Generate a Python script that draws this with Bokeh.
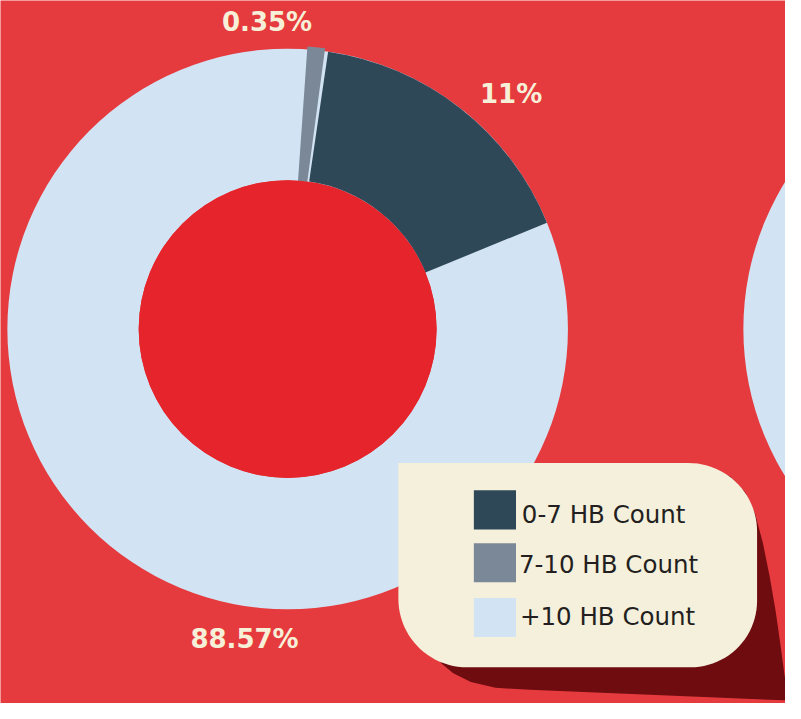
import numpy as np
from bokeh.plotting import figure
from bokeh.models import Range1d, ColumnDataSource
from bokeh.core.properties import value
from bokeh.embed import file_html
from bokeh.resources import INLINE

# ---------------- data ----------------
categories = ["0-7 HB Count", "7-10 HB Count", "+10 HB Count"]
pct_labels = ["11%", "0.35%", "88.57%"]
# share of the ring each slice occupies as drawn in the picture (%)
drawn_share = [16.5, 1.0, 82.5]
slice_colors = ["#2F4858", "#7B8897", "#D2E4F4"]

# ---------------- style / layout ----------------
BG = "#E63B3E"
INNER_RED = "#E5242B"
CREAM = "#F5F0DC"
LABEL_CREAM = "#F7F0D8"
SHADOW = "#6E0C10"
TEXT_DARK = "#231F20"

CX, CY = 293, 336          # donut centre (reference px)
R_OUT, R_IN = 286, 152
START_DEG = 4.0            # where the grey bar begins, clockwise from 12 o'clock
GAP_DEG = 0.7              # thin light gap between grey bar and dark slice
CX2 = 1044                 # second (cut-off) donut at right edge

REF_W, REF_H = 801, 719
W, H = 785, 703


def py(y):  # reference pixel y -> data y
    return -y


p = figure(width=W, height=H, x_range=Range1d(0, REF_W), y_range=Range1d(-REF_H, 0),
           output_backend="svg", toolbar_location=None, min_border=0,
           x_axis_location=None, y_axis_location=None)
p.grid.visible = False
p.outline_line_color = None
p.background_fill_color = BG
p.border_fill_color = BG

# ---- second donut (cut off at the right) ----
p.annular_wedge(x=[CX2], y=[py(CY)], inner_radius=R_IN, outer_radius=R_OUT,
                start_angle=0, end_angle=2 * np.pi, color=slice_colors[2], line_color=None)

# ---- main donut ----
p.annular_wedge(x=[CX], y=[py(CY)], inner_radius=R_IN, outer_radius=R_OUT,
                start_angle=0, end_angle=2 * np.pi, color=slice_colors[2], line_color=None)

grey_span = drawn_share[1] * 3.6
dark_span = drawn_share[0] * 3.6
g0 = START_DEG
g1 = g0 + grey_span
d0 = g1 + GAP_DEG
d1 = d0 + dark_span


def to_bokeh(theta_deg):
    return np.deg2rad(90 - theta_deg)


src = ColumnDataSource(dict(
    x=[CX, CX], y=[py(CY), py(CY)],
    start=[to_bokeh(d0), to_bokeh(g0)],
    end=[to_bokeh(d1), to_bokeh(g1)],
    outer=[R_OUT, R_OUT + 3],
    inner=[R_IN, R_IN - 4],
    color=[slice_colors[0], slice_colors[1]],
))
p.annular_wedge(x="x", y="y", inner_radius="inner", outer_radius="outer",
                start_angle="start", end_angle="end", direction="clock",
                color="color", line_color=None, source=src)

p.circle(x=[CX], y=[py(CY)], radius=R_IN, color=INNER_RED, line_color=None)

# ---- percentage labels ----
label_pos = [(521, 96), (272, 22), (249, 653)]
p.text(x=[q[0] for q in label_pos], y=[py(q[1]) for q in label_pos], text=pct_labels,
       text_font=value("DejaVu Sans"), text_font_style="bold", text_font_size="26px",
       text_color=LABEL_CREAM, text_align="center", text_baseline="middle")

# ---- legend box with shadow ----
shadow_pts = [(445, 490), (700, 478), (725, 478), (745, 487), (760, 503), (770, 525),
              (778, 555), (785, 590), (791, 625), (796, 660), (800, 690), (803, 705),
              (806, 716), (540, 705), (505, 703), (480, 697), (462, 688), (450, 678),
              (443, 668), (440, 650), (440, 490)]
p.patch(x=[q[0] for q in shadow_pts], y=[py(q[1]) for q in shadow_pts],
        color=SHADOW, line_color=None)


def rounded_rect(x0, y0, x1, y1, r_tl, r_tr, r_br, r_bl, n=24):
    pts = []

    def arc(cx, cy, r, a0, a1):
        if r == 0:
            pts.append((cx, cy))
            return
        for a in np.linspace(a0, a1, n):
            pts.append((cx + r * np.cos(a), cy + r * np.sin(a)))
    arc(x0 + r_tl, y0 + r_tl, r_tl, np.pi, 1.5 * np.pi)
    arc(x1 - r_tr, y0 + r_tr, r_tr, 1.5 * np.pi, 2 * np.pi)
    arc(x1 - r_br, y1 - r_br, r_br, 0, 0.5 * np.pi)
    arc(x0 + r_bl, y1 - r_bl, r_bl, 0.5 * np.pi, np.pi)
    return pts


box = rounded_rect(406, 473, 772, 682, 0, 70, 68, 70)
p.patch(x=[q[0] for q in box], y=[py(q[1]) for q in box], color=CREAM, line_color=None)

sw_x0, sw_x1 = 483, 526
sw_y = [(501, 541), (555, 595), (611, 651)]
p.quad(left=[sw_x0] * 3, right=[sw_x1] * 3,
       top=[py(a) for a, b in sw_y], bottom=[py(b) for a, b in sw_y],
       color=slice_colors, line_color=None)
txt_pos = [(532, 526), (529, 577), (530, 630)]
p.text(x=[q[0] for q in txt_pos], y=[py(q[1]) for q in txt_pos], text=categories,
       text_font=value("DejaVu Sans"), text_font_size="24.5px", text_color=TEXT_DARK,
       text_align="left", text_baseline="middle")

open("out.html", "w").write(file_html(p, INLINE))
